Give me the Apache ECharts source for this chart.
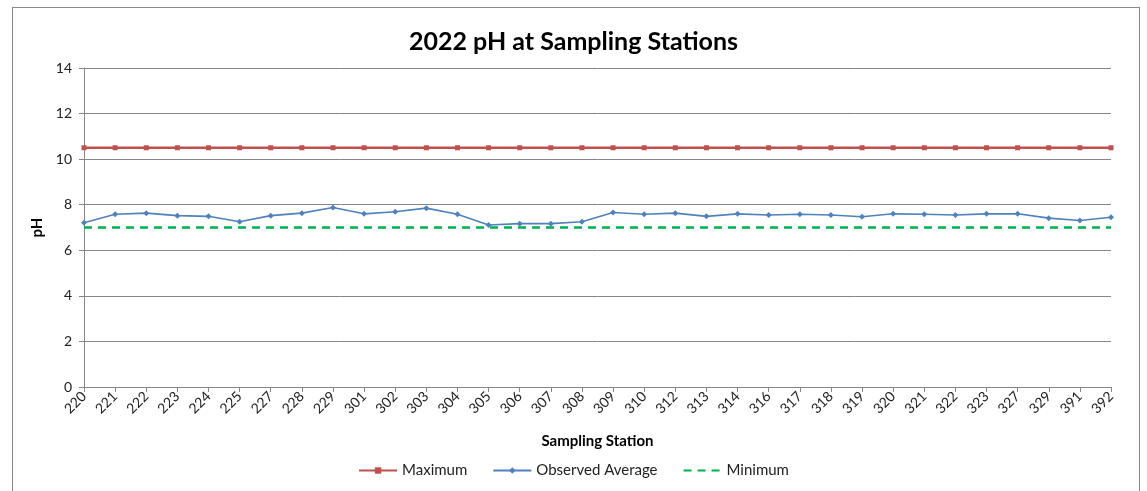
<!DOCTYPE html>
<html>
<head>
<meta charset="utf-8">
<script src="https://cdn.jsdelivr.net/npm/echarts@6/dist/echarts.min.js"></script>
<style>
  html, body { margin: 0; padding: 0; background: #fff; }
  #frame { position: absolute; left: 12px; top: 7px; width: 1128px; height: 500px; border: 1px solid #8a8a8a; box-sizing: border-box; }
  #chart { position: absolute; left: 0; top: 0; width: 1147px; height: 491px; }
</style>
</head>
<body>
<div id="frame"></div>
<div id="chart"></div>
<script>
// Sampling stations along the x axis
const stations = ['220','221','222','223','224','225','227','228','229','301','302','303','304','305','306','307','308','309','310','312','313','314','316','317','318','319','320','321','322','323','327','329','391','392'];

// Observed average pH at each station
const observedAverage = [7.21,7.58,7.63,7.52,7.49,7.25,7.52,7.63,7.88,7.60,7.69,7.85,7.58,7.11,7.17,7.17,7.25,7.66,7.58,7.63,7.49,7.60,7.55,7.58,7.55,7.47,7.60,7.58,7.55,7.60,7.60,7.41,7.31,7.45];

// Permitted range limits
const maximumPH = 10.5;
const minimumPH = 7.0;

const maximum = stations.map(() => maximumPH);
const minimum = stations.map(() => minimumPH);

const font = 'Lato, "Open Sans", sans-serif';
const chart = echarts.init(document.getElementById('chart'), null, { renderer: 'canvas' });

chart.setOption({
  animation: false,
  backgroundColor: 'transparent',
  title: {
    text: '2022 pH at Sampling Stations',
    left: 'center',
    top: 24,
    textStyle: { fontFamily: font, fontSize: 25, fontWeight: 'bold', color: '#000' }
  },
  grid: { left: 84, right: 36, top: 68, bottom: 104 },
  legend: {
    bottom: 8,
    left: 'center',
    itemWidth: 38,
    itemHeight: 8,
    itemGap: 25,
    textStyle: { fontFamily: font, fontSize: 15, color: '#222' },
    data: [
      'Maximum',
      'Observed Average',
      { name: 'Minimum', itemStyle: { opacity: 0 } }
    ]
  },
  xAxis: {
    type: 'category',
    data: stations,
    boundaryGap: false,
    name: 'Sampling Station',
    nameLocation: 'middle',
    nameGap: 47,
    nameTextStyle: { fontFamily: font, fontSize: 15, fontWeight: 'bold', color: '#000' },
    axisLine: { lineStyle: { color: '#868686', width: 1 } },
    axisTick: { show: true, length: 5, alignWithLabel: true, lineStyle: { color: '#868686' } },
    axisLabel: { rotate: 45, fontFamily: font, fontSize: 14, color: '#222', margin: 7, interval: 0 }
  },
  yAxis: {
    type: 'value',
    min: 0,
    max: 14,
    interval: 2,
    name: 'pH',
    nameLocation: 'middle',
    nameGap: 33,
    nameTextStyle: { fontFamily: font, fontSize: 15, fontWeight: 'bold', color: '#000' },
    axisLine: { show: true, lineStyle: { color: '#868686', width: 1 } },
    axisTick: { show: true, length: 5, inside: false, lineStyle: { color: '#868686' } },
    axisLabel: { fontFamily: font, fontSize: 14, color: '#222', margin: 12 },
    splitLine: { lineStyle: { color: '#868686', width: 1 } }
  },
  series: [
    {
      name: 'Maximum',
      type: 'line',
      data: maximum,
      symbol: 'rect',
      symbolSize: 5,
      lineStyle: { color: '#C0504D', width: 2.5 },
      itemStyle: { color: '#C0504D' },
      z: 3
    },
    {
      name: 'Observed Average',
      type: 'line',
      data: observedAverage,
      symbol: 'diamond',
      symbolSize: 6,
      lineStyle: { color: '#4F81BD', width: 1.6 },
      itemStyle: { color: '#4F81BD' },
      z: 4
    },
    {
      name: 'Minimum',
      type: 'line',
      data: minimum,
      symbol: 'none',
      lineStyle: { color: '#00B050', width: 2.5, type: [8, 6] },
      itemStyle: { color: '#00B050' },
      z: 2
    }
  ]
});
</script>
</body>
</html>
